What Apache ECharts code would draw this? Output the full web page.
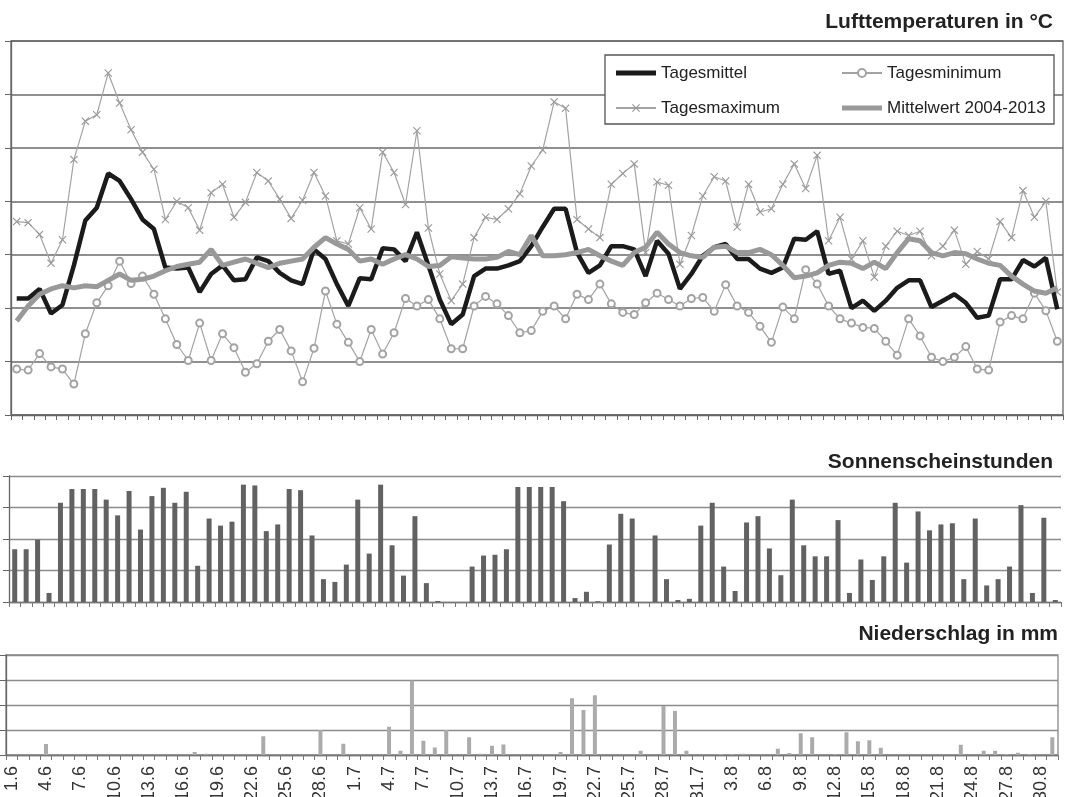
<!DOCTYPE html>
<html>
<head>
<meta charset="utf-8">
<script src="https://cdn.jsdelivr.net/npm/echarts@6/dist/echarts.min.js"></script>
<style>
html,body{margin:0;padding:0;background:#fff;}
#c{width:1071px;height:797px;}
</style>
</head>
<body>
<div id="c"></div>
<script>
const categories = ["1.6","2.6","3.6","4.6","5.6","6.6","7.6","8.6","9.6","10.6","11.6","12.6","13.6","14.6","15.6","16.6","17.6","18.6","19.6","20.6","21.6","22.6","23.6","24.6","25.6","26.6","27.6","28.6","29.6","30.6",
"1.7","2.7","3.7","4.7","5.7","6.7","7.7","8.7","9.7","10.7","11.7","12.7","13.7","14.7","15.7","16.7","17.7","18.7","19.7","20.7","21.7","22.7","23.7","24.7","25.7","26.7","27.7","28.7","29.7","30.7","31.7",
"1.8","2.8","3.8","4.8","5.8","6.8","7.8","8.8","9.8","10.8","11.8","12.8","13.8","14.8","15.8","16.8","17.8","18.8","19.8","20.8","21.8","22.8","23.8","24.8","25.8","26.8","27.8","28.8","29.8","30.8","31.8"];

const tagesmittel = [10.9,10.9,11.8,9.5,10.3,14.0,18.2,19.4,22.6,21.9,20.2,18.3,17.4,13.8,13.7,13.8,11.5,13.2,14.0,12.6,12.7,14.75,14.4,
13.3,12.6,12.25,15.5,14.6,12.25,10.2,12.8,12.7,15.6,15.5,14.4,17.1,14.0,10.8,8.5,9.4,13.0,13.7,13.7,14.0,14.4,15.8,17.6,
19.3,19.3,15.2,13.3,14.0,15.8,15.8,15.5,13.0,16.3,15.1,11.8,13.2,14.9,15.7,16.0,14.6,14.6,13.7,13.3,13.8,16.5,16.4,
17.2,13.2,13.5,10.0,10.7,9.75,10.7,11.9,12.6,12.6,10.1,10.7,11.3,10.5,9.1,9.3,12.7,12.7,14.5,13.9,14.7,9.9];

const tagesminimum = [4.3,4.2,5.75,4.5,4.3,2.9,7.6,10.5,12.1,14.4,12.3,13.0,11.3,9.0,6.6,5.1,8.6,5.1,7.6,6.3,4.0,4.8,6.9,
8.0,6.0,3.1,6.25,11.6,8.5,6.8,5.0,8.0,5.7,7.7,10.9,10.2,10.8,9.0,6.2,6.2,10.2,11.1,10.4,9.3,7.7,7.9,9.7,
10.2,9.0,11.3,10.8,12.25,10.4,9.6,9.4,10.5,11.4,10.8,10.2,10.9,11.0,9.7,12.2,10.2,9.6,8.3,6.8,10.1,9.0,13.6,
12.25,10.2,9.0,8.6,8.2,8.1,6.9,5.6,9.0,7.4,5.4,5.0,5.4,6.4,4.3,4.2,8.7,9.3,9.0,11.4,9.75,6.9];

const tagesmaximum = [18.1,18.0,16.9,14.2,16.4,23.9,27.5,28.1,32.0,29.2,26.7,24.6,23.0,18.3,20.0,19.4,17.3,20.8,21.6,18.5,19.9,22.7,21.9,
20.2,18.4,20.1,22.7,20.5,16.3,16.0,19.4,17.4,24.6,22.7,19.7,26.6,17.5,13.2,10.7,12.25,16.6,18.5,18.3,19.3,20.7,23.3,24.8,
29.3,28.7,18.3,17.4,16.6,21.6,22.6,23.5,15.2,21.8,21.5,14.1,16.8,20.5,22.3,21.9,17.6,21.6,19.0,19.3,21.6,23.5,21.2,
24.3,16.3,18.5,14.6,16.3,12.9,15.8,17.2,16.8,17.2,14.9,15.8,17.3,14.1,15.3,14.6,18.1,16.6,21.0,18.5,20.0,11.5];

const mittelwert = [8.8,10.2,11.3,11.8,12.1,11.9,12.1,12.0,12.6,13.2,12.6,12.7,13.0,13.5,13.9,14.1,14.3,15.5,14.0,14.3,14.6,14.2,13.8,
14.2,14.4,14.6,15.7,16.6,16.0,15.5,14.4,14.6,14.1,14.6,15.0,14.6,13.9,14.0,14.8,14.7,14.6,14.6,14.75,15.3,15.0,16.8,14.9,
14.9,15.0,15.2,15.5,14.9,14.4,14.0,15.2,15.7,17.1,16.0,15.2,14.9,14.75,15.7,15.8,15.2,15.2,15.5,15.0,14.0,12.85,13.0,
13.3,14.0,14.3,14.2,13.7,14.3,13.7,15.2,16.5,16.3,15.2,14.9,15.2,15.1,14.6,14.2,14.0,13.0,12.25,11.6,11.4,11.9];

const sonnenschein = [6.7,6.7,7.9,1.15,12.6,14.35,14.35,14.35,13.0,11.0,14.1,9.2,13.45,14.5,12.6,14.0,4.6,10.6,9.7,10.2,
14.9,14.8,9.0,9.85,14.35,14.2,8.45,2.9,2.55,4.75,13.0,6.15,14.9,7.2,3.35,10.9,2.4,0.13,0,0,
4.5,5.9,6.0,6.7,14.6,14.6,14.6,14.6,12.8,0.5,1.3,0.1,7.3,11.2,10.6,0,8.45,2.9,0.25,0.4,
9.7,12.6,4.5,1.4,10.1,10.9,6.8,3.4,13.0,7.2,5.8,5.8,10.4,1.15,5.4,2.8,5.8,12.6,5.0,11.5,
9.1,9.85,10.0,2.9,10.6,2.1,2.9,4.5,12.3,1.15,10.7,0.25];

const niederschlag = [0,0,0,4.4,0,0,0,0,0,0,0,0,0,0,0,0,1.2,0.5,0,0,
0,0,7.5,0,0,0,0,10.0,0,4.5,0,0,0,11.3,1.7,29.8,5.7,3.0,10.0,0,
7.1,0.5,3.7,4.2,0,0,0,0,1.2,22.7,18.0,23.9,0,0,0,1.7,0,19.6,17.6,1.7,
0,0,0.4,0.4,0.5,0,0,2.5,0.8,8.7,7.1,0,0.4,9.1,5.5,5.9,2.9,0,0,0,
0,0,0,4.1,0,1.7,1.7,0.4,0.9,0.4,0,7.1];

const titles = ["Lufttemperaturen in °C", "Sonnenscheinstunden", "Niederschlag in mm"];

const FONT = "Liberation Sans";
const chart = echarts.init(document.getElementById('c'), null, {renderer: 'canvas'});

const xBase = (gi, showLabel, lineColor) => ({
  type: 'category', gridIndex: gi, data: categories, boundaryGap: true,
  axisLine: {show: true, lineStyle: {color: lineColor, width: 1.3}},
  axisTick: {show: true, interval: 0, length: 5, lineStyle: {color: lineColor, width: 1}},
  axisLabel: showLabel ? {show: true, interval: 2, rotate: 90, fontSize: 18, fontFamily: FONT, color: '#333', margin: 11} : {show: false},
  splitLine: {show: false}
});
const yBase = (gi, max, interval, gridColor, gw) => ({
  type: 'value', gridIndex: gi, min: 0, max: max, interval: interval,
  axisLine: {show: true, lineStyle: {color: '#666', width: 1.3}},
  axisTick: {show: true, length: 6, lineStyle: {color: '#666'}},
  axisLabel: {show: false},
  splitLine: {show: true, lineStyle: {color: gridColor, width: gw}}
});

const xSym = 'path://M0,1L1,0L5,4L9,0L10,1L6,5L10,9L9,10L5,6L1,10L0,9L4,5Z';
const thickIcon = 'path://M0,0L40,0L40,5L0,5Z';
const legendText = {fontFamily: FONT, fontSize: 17, color: '#222', lineHeight: 20};

const option = {
  animation: false,
  backgroundColor: '#fff',
  title: [
    {text: titles[0], right: 18, top: 12, padding: 0, textStyle: {fontFamily: FONT, fontSize: 21, fontWeight: 'bold', color: '#222'}},
    {text: titles[1], right: 18, top: 452, padding: 0, textStyle: {fontFamily: FONT, fontSize: 21, fontWeight: 'bold', color: '#222'}},
    {text: titles[2], right: 13, top: 624, padding: 0, textStyle: {fontFamily: FONT, fontSize: 21, fontWeight: 'bold', color: '#222'}}
  ],
  graphic: [
    {type: 'rect', shape: {x: 605, y: 55, width: 449, height: 69}, style: {fill: '#fff', stroke: '#555', lineWidth: 1.3}, z: 3}
  ],
  legend: [
    {data: [{name: 'Tagesmittel', icon: thickIcon}, {name: 'Tagesmaximum'}], orient: 'vertical', left: 615, top: 63, padding: 0, itemGap: 15,
     itemWidth: 40, itemHeight: 10, z: 6, textStyle: legendText},
    {data: [{name: 'Tagesminimum'}, {name: 'Mittelwert 2004-2013', icon: thickIcon}], orient: 'vertical', left: 841, top: 63, padding: 0, itemGap: 15,
     itemWidth: 40, itemHeight: 10, z: 6, textStyle: legendText}
  ],
  grid: [
    {left: 11, top: 41, width: 1052, height: 374, outerBoundsMode: 'none', containLabel: false, show: true, borderColor: '#666', borderWidth: 1.3, backgroundColor: 'transparent'},
    {left: 9, top: 476, width: 1052, height: 126, outerBoundsMode: 'none', containLabel: false},
    {left: 6, top: 655, width: 1052, height: 100, outerBoundsMode: 'none', containLabel: false, show: true, borderColor: '#888', borderWidth: 1.3, backgroundColor: 'transparent'}
  ],
  xAxis: [xBase(0, false, '#666'), xBase(1, false, '#777'), xBase(2, true, '#777')],
  yAxis: [yBase(0, 35, 5, '#6a6a6a', 1.5), yBase(1, 16, 4, '#8c8c8c', 1.3), yBase(2, 40, 10, '#8c8c8c', 1.3)],
  series: [
    {name: 'Tagesmittel', type: 'line', xAxisIndex: 0, yAxisIndex: 0, data: tagesmittel, symbol: 'none',
     lineStyle: {color: '#1b1b1b', width: 4.5}, itemStyle: {color: '#1b1b1b'}, z: 3},
    {name: 'Tagesminimum', type: 'line', xAxisIndex: 0, yAxisIndex: 0, data: tagesminimum, symbol: 'emptyCircle', symbolSize: 7, showSymbol: true, showAllSymbol: true,
     lineStyle: {color: '#a3a3a3', width: 1.2}, itemStyle: {color: '#a3a3a3', borderColor: '#a3a3a3', borderWidth: 1}, z: 2},
    {name: 'Tagesmaximum', type: 'line', xAxisIndex: 0, yAxisIndex: 0, data: tagesmaximum, symbol: xSym, symbolSize: 8, showSymbol: true, showAllSymbol: true,
     lineStyle: {color: '#a3a3a3', width: 1.2}, itemStyle: {color: '#999999', borderWidth: 0}, z: 2},
    {name: 'Mittelwert 2004-2013', type: 'line', xAxisIndex: 0, yAxisIndex: 0, data: mittelwert, symbol: 'none',
     lineStyle: {color: '#999999', width: 5}, itemStyle: {color: '#999999'}, z: 4},
    {name: 'Sonnenscheinstunden', type: 'bar', xAxisIndex: 1, yAxisIndex: 1, data: sonnenschein, barWidth: 5,
     itemStyle: {color: '#626262'}},
    {name: 'Niederschlag', type: 'bar', xAxisIndex: 2, yAxisIndex: 2, data: niederschlag, barWidth: 4,
     itemStyle: {color: '#ababab'}}
  ]
};
chart.setOption(option);
</script>
</body>
</html>
